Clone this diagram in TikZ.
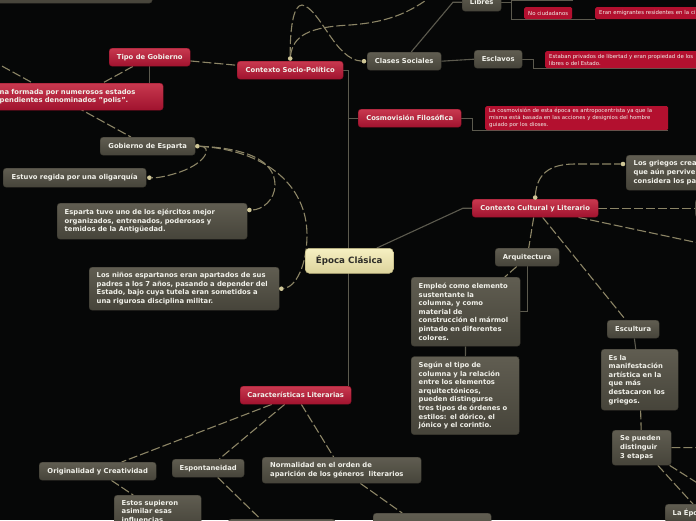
\documentclass[tikz,border=0pt]{standalone}
\usepackage{fontspec}
\setmainfont{DejaVu Sans}
\usetikzlibrary{positioning, calc, backgrounds}
\definecolor{bgDark}{HTML}{060707}
\definecolor{redTop}{HTML}{C8394F}
\definecolor{redBottom}{HTML}{A0122E}
\definecolor{redBorder}{HTML}{8A0E26}
\definecolor{noteRed}{HTML}{B3102F}
\definecolor{greyTop}{HTML}{605D51}
\definecolor{greyBottom}{HTML}{46443A}
\definecolor{greyBorder}{HTML}{3A382F}
\definecolor{centerTop}{HTML}{F6F0C2}
\definecolor{centerBottom}{HTML}{DCD39C}
\definecolor{centerBorder}{HTML}{BDB47E}
\definecolor{tanLine}{HTML}{8C8566}
\definecolor{branchGrey}{HTML}{5C5A4E}
\definecolor{knotFill}{HTML}{CFC696}
\definecolor{textLight}{HTML}{F1F1EA}
\definecolor{textDark}{HTML}{2E2D28}
\tikzset{
  topic/.style={rounded corners=3pt, top color=redTop, bottom color=redBottom,
    draw=redBorder, line width=0.4pt, text=textLight, anchor=north west,
    font=\bfseries\fontsize{6.8}{8.6}\selectfont, inner sep=0pt,
    minimum height=18pt, align=center},
  subtopic/.style={rounded corners=3pt, top color=greyTop, bottom color=greyBottom,
    draw=greyBorder, line width=0.4pt, text=textLight, anchor=north west,
    font=\bfseries\fontsize{6.8}{8.6}\selectfont, inner sep=0pt,
    minimum height=18pt, align=center},
  leaf/.style={subtopic, align=left, inner xsep=7.5pt, inner ysep=5pt, text width=#1},
  redleaf/.style={topic, align=left, inner xsep=7.5pt, inner ysep=5pt, text width=#1},
  note/.style={rounded corners=1.5pt, fill=noteRed, text=textLight, anchor=north west,
    font=\fontsize{5.4}{7}\selectfont, inner xsep=4pt, inner ysep=2pt, align=left},
  central/.style={rounded corners=4pt, top color=centerTop, bottom color=centerBottom,
    draw=centerBorder, line width=0.5pt, text=textDark, anchor=north west,
    font=\bfseries\fontsize{8.7}{10}\selectfont, inner sep=0pt},
  tie/.style={draw=tanLine, line width=1.1pt, dash pattern=on 9pt off 3pt},
  branch/.style={draw=branchGrey, line width=1.1pt},
  knot/.style={circle, fill=knotFill, inner sep=0pt, minimum size=4.6pt},
}

\begin{document}
\begin{tikzpicture}[x=1pt, y=-1pt]

  \useasboundingbox (0,0) rectangle (696,520);
  \clip (0,0) rectangle (696,520);

  % === Centre ===
  \node[central, minimum width=88pt, minimum height=25pt] (epoca) at (305,248) {Época Clásica};

  % === Contexto Socio-Politico ===
  \node[subtopic, minimum width=162pt, minimum height=33pt] (topleft) at (-10,-30) {};
  \node[topic, minimum width=81pt] (tipo) at (109,48) {Tipo de Gobierno};
  \node[topic, minimum width=106pt] (socio) at (237,61) {Contexto Socio-Político};
  \node[redleaf=156pt, minimum height=27pt] (polis) at (-8,83)
    {na formada por numerosos estados\\pendientes denominados "polis".};
  \node[subtopic, minimum width=95pt] (gobesp) at (100,137) {Gobierno de Esparta};
  \node[subtopic, minimum width=143pt, minimum height=19pt] (oligar) at (3,168)
    {Estuvo regida por una oligarquía};
  \node[leaf=175pt, minimum height=36pt] (ejercito) at (57,203)
    {Esparta tuvo uno de los ejércitos mejor\\organizados, entrenados, poderosos y\\temidos de la Antigüedad.};
  \node[leaf=175pt, minimum height=43pt] (ninos) at (89,267)
    {Los niños espartanos eran apartados de sus\\padres a los 7 años, pasando a depender del\\Estado, bajo cuya tutela eran sometidos a\\una rigurosa disciplina militar.};

  % === Clases Sociales ===
  \node[subtopic, minimum width=74pt] (clases) at (367,52) {Clases Sociales};
  \node[subtopic, minimum width=39pt] (libres) at (462,-7) {Libres};
  \node[note, minimum width=48pt, minimum height=12pt, align=center] (nociud) at (524,7) {No ciudadanos};
  \node[note, text width=122pt, minimum height=12pt] (emigr) at (595,7) {Eran emigrantes residentes en la ci};
  \node[subtopic, minimum width=48pt] (esclavos) at (474,50) {Esclavos};
  \node[note, text width=180pt, minimum height=17pt] (privados) at (545,51)
    {Estaban privados de libertad y eran propiedad de los\\libres o del Estado.};

  % === Cosmovision ===
  \node[topic, minimum width=103pt] (cosmo) at (358,109) {Cosmovisión Filosófica};
  \node[note, text width=175pt, minimum height=24pt] (cosmonote) at (485,106)
    {La cosmovisión de esta época es antropocentrista ya que la\\misma está basada en las acciones y designios del hombre\\guiado por los dioses.};

  % === Contexto Cultural y Literario ===
  \node[topic, minimum width=126pt] (cultural) at (472,199) {Contexto Cultural y Literario};
  \node[leaf=100pt, minimum height=35pt] (griegos) at (626,155)
    {Los griegos crea\\que aún pervive\\considera los pa};
  \node[subtopic, minimum width=40pt] (rightbox) at (695,199) {};
  \node[subtopic, minimum width=64pt] (arquit) at (495,248) {Arquitectura};
  \node[leaf=94pt, minimum height=69pt] (empleo) at (411,277)
    {Empleó como elemento\\sustentante la\\columna, y como\\material de\\construcción el mármol\\pintado en diferentes\\colores.};
  \node[leaf=93pt, minimum height=78pt, below=10pt of empleo.south west, anchor=north west] (segun)
    {Según el tipo de\\columna y la relación\\entre los elementos\\arquitectónicos,\\pueden distingurse\\tres tipos de órdenes o\\estilos: el dórico, el\\jónico y el corintio.};
  \node[subtopic, minimum width=52pt] (escult) at (607,320) {Escultura};
  \node[leaf=62pt, minimum height=61pt] (esla) at (601,349)
    {Es la\\manifestación\\artística en la\\que más\\destacaron los\\griegos.};
  \node[leaf=43pt, minimum height=35pt, inner xsep=8pt] (etapas) at (612,430)
    {Se pueden\\distinguir\\3 etapas};
  \node[leaf=90pt] (laepoca) at (665,504) {La Épo};

  % === Caracteristicas Literarias ===
  \node[topic, minimum width=111pt] (caract) at (240,386) {Características Literarias};
  \node[subtopic, minimum width=117pt] (origin) at (39,462) {Originalidad y Creatividad};
  \node[subtopic, minimum width=72pt] (espont) at (172,459) {Espontaneidad};
  \node[leaf=143pt, minimum height=26pt, inner xsep=8pt] (normal) at (262,457)
    {Normalidad en el orden de\\aparición de los géneros\ \ literarios};
  \node[leaf=72pt] (estos) at (114,495) {Estos supieron\\asimilar esas\\influencias};
  \node[subtopic, minimum width=107pt, minimum height=41pt] (bottomA) at (228,519) {};
  \node[subtopic, minimum width=118pt, minimum height=42pt] (bottomB) at (373,513) {};

  % === Knots ===
  \node[knot] (socioknot) at ([yshift=2.5pt]socio.north) {};
  \node[knot] (clasesknot) at ([xshift=-3pt]clases.west) {};
  \node[knot] (gobknot) at ([xshift=2pt]gobesp.east) {};
  \node[knot] (oligknot) at ([xshift=3pt]oligar.east) {};
  \node[knot] (ejknot) at ([xshift=2pt,yshift=-7pt]ejercito.north east) {};
  \node[knot] (ninknot) at ([xshift=2pt]ninos.east) {};
  \node[knot] (culturalknot) at ([yshift=1.5pt]cultural.north) {};
  \node[knot] (griegosknot) at ([xshift=-3pt,yshift=-9pt]griegos.north west) {};

  % free ends
  \coordinate (offleft) at (-40,43);
  \coordinate (offtop) at (432,-4);
  \coordinate (socpeak) at (302,5);
  \coordinate (ciudline) at (573,0.5);
  \coordinate (griegbend) at (575,164);
  \coordinate (offright) at (760,256);
  \coordinate (etapasright) at (720,447.5);
  \coordinate (offlower) at (740,510);
  \coordinate (trunkend) at ([xshift=-3pt]caract.north east);

  \begin{pgfonlayer}{background}
    \clip (0,0) rectangle (696,520);
    \fill[bgDark] (0,0) rectangle (696,520);

    % === Trunk from the centre ===
    \draw[branch] (socio.east) -| (trunkend);
    \draw[branch] (cosmo.west) -- (cosmo.west -| trunkend);
    \draw[branch] (epoca) -- ([xshift=-9pt]cultural.west) -- (cultural.west);

    % === Socio-politico links ===
    \draw[tie] (tipo) -- (socio);
    \draw[tie] (tipo) -- (polis);
    \draw[branch] (tipo.south) -- (tipo.south |- polis.north);
    \draw[tie] (offleft) -- (gobesp);
    \draw[tie] (socioknot) .. controls (290,30) and (293,5) .. (socpeak)
      .. controls (320,8) and (335,60) .. (clasesknot);
    \draw[tie] (socioknot) .. controls (293,35) and (310,27) .. (350,25)
      .. controls (390,22) and (410,12) .. (offtop);
    \draw[branch] ([xshift=7pt]clases.north) -- ([xshift=-9pt]libres.west) -- (libres.west);
    \draw[branch] (clases.east) -- (esclavos.west);
    \draw[branch] (libres.east) -- ++(10,0) |- ([yshift=-0.5pt]nociud.south west)
      -- ([yshift=-0.5pt]emigr.south west);
    \draw[branch] ([xshift=10pt]libres.east) |- (ciudline);
    \draw[branch] (esclavos.east) -- ++(11,0) |- ([yshift=-0.5pt]privados.south west)
      -- ([yshift=-0.5pt]privados.south east);
    \draw[branch] (cosmo.east) -- ++(11,0) |- ([yshift=-0.5pt]cosmonote.south west)
      -- ([yshift=-0.5pt]cosmonote.south east);

    % Esparta
    \draw[tie] (gobknot) .. controls (212,146) and (208,162) .. (180,172)
      .. controls (168,176) and (158,178) .. (oligknot);
    \draw[tie] (gobknot) .. controls (245,148) and (275,160) .. (275,185)
      .. controls (275,200) and (262,210) .. (ejknot);
    \draw[tie] (gobknot) .. controls (265,150) and (307,185) .. (307,235)
      .. controls (307,265) and (296,287) .. (ninknot);

    % === Cultural links ===
    \draw[tie] (culturalknot) .. controls (537,175) and (548,164) .. (griegbend) -- (griegosknot);
    \draw[tie] (cultural) -- (rightbox);
    \draw[tie] (cultural) -- (offright);
    \draw[tie] (cultural) -- (arquit);
    \draw[tie] (cultural) -- (escult);
    \draw[tie] (arquit) -- (empleo);
    \draw[branch] (arquit.south) |- (empleo.east);
    \draw[branch] (empleo) -- (segun);
    \draw[branch] (escult) -- (esla);
    \draw[tie] (esla) -- (etapas);
    \draw[tie] (etapas) -- (etapasright);
    \draw[tie] (etapas) -- ([xshift=28pt]laepoca.north west);
    \draw[tie] (etapas) -- (offlower);

    % === Literary links ===
    \draw[tie] (caract) -- (origin);
    \draw[tie] (caract) -- (espont);
    \draw[tie] (caract) -- (normal);
    \draw[tie] (origin) -- (estos);
    \draw[tie] (espont) -- (bottomA);
    \draw[tie] (normal) -- (bottomB);
  \end{pgfonlayer}

\end{tikzpicture}
\end{document}
